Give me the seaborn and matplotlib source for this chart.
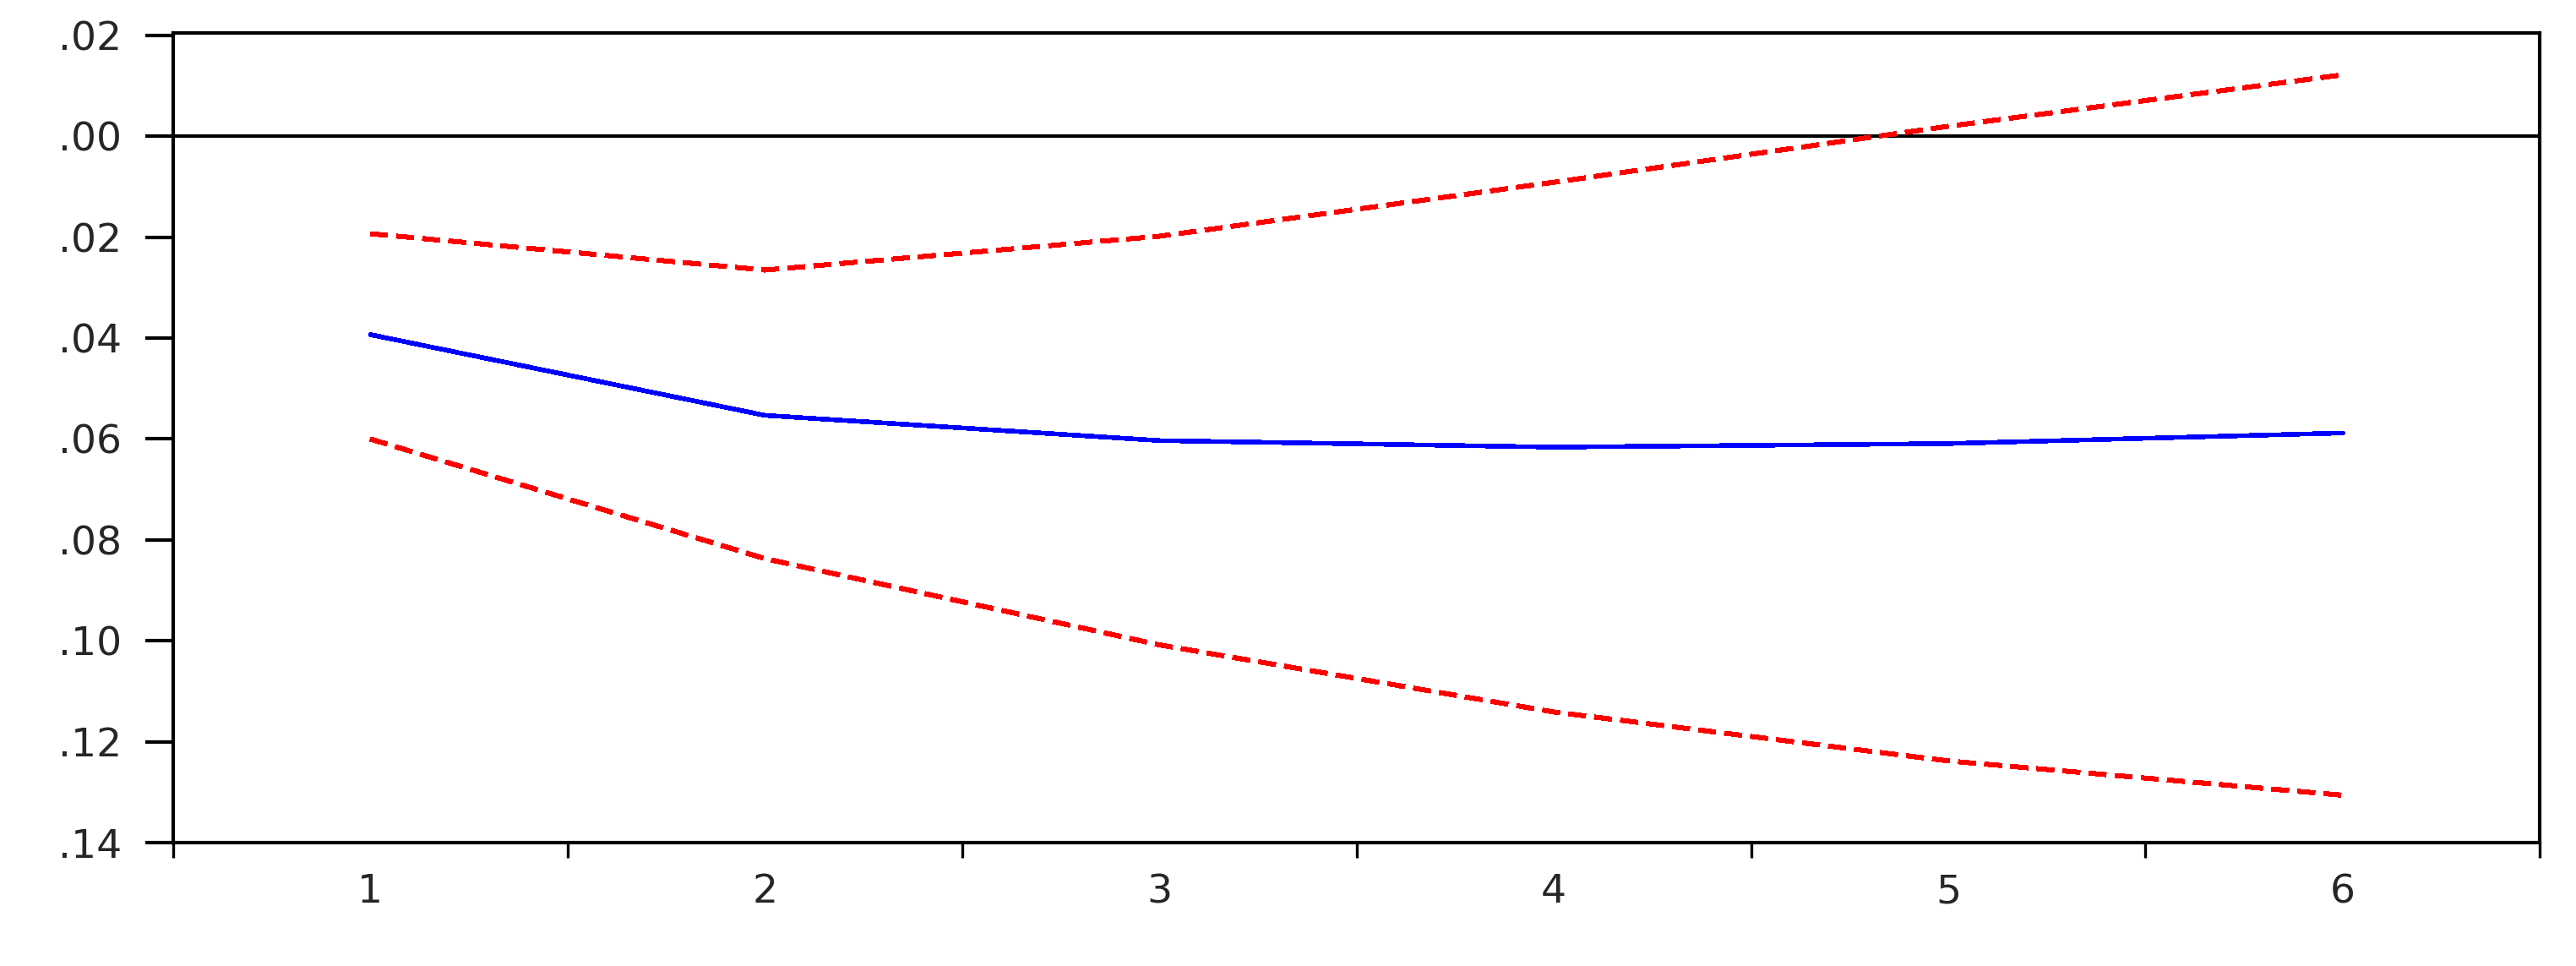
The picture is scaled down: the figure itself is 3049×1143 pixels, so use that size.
import numpy as np
import pandas as pd
import matplotlib
matplotlib.use("Agg")
import matplotlib.pyplot as plt
import seaborn as sns
from matplotlib.ticker import FixedLocator

# ----------------------------------------
# Data
# ----------------------------------------
periods = [1, 2, 3, 4, 5, 6]
response = [-0.0393, -0.0553, -0.0603, -0.0616, -0.0609, -0.0588]
upper_band = [-0.0193, -0.0265, -0.0198, -0.0091, 0.0020, 0.0122]
lower_band = [-0.0600, -0.0837, -0.1008, -0.1141, -0.1238, -0.1306]

y_ticks = [0.02, 0.00, -0.02, -0.04, -0.06, -0.08, -0.10, -0.12, -0.14]
y_labels = [".02", ".00", ".02", ".04", ".06", ".08", ".10", ".12", ".14"]
x_labels = ["1", "2", "3", "4", "5", "6"]

df = pd.DataFrame({
    "period": periods,
    "response": response,
    "upper": upper_band,
    "lower": lower_band,
})

# ----------------------------------------
# Style
# ----------------------------------------
sns.set_style("ticks")
plt.rcParams["font.family"] = ["DejaVu Sans"]

fig = plt.figure(figsize=(30.49, 11.43), dpi=100)
ax = fig.add_axes([0.0672, 0.1277, 0.9188, 0.8382])

# ----------------------------------------
# Lines (aliased, like the original screenshot)
# ----------------------------------------
dash = (0, (4.5, 2.25))

sns.lineplot(data=df, x="period", y="response", color="#0000ff",
             linewidth=3.3, antialiased=False, ax=ax)
sns.lineplot(data=df, x="period", y="upper", color="#ff0000",
             linewidth=3.3, linestyle=dash, antialiased=False, ax=ax)
sns.lineplot(data=df, x="period", y="lower", color="#ff0000",
             linewidth=3.3, linestyle=dash, antialiased=False, ax=ax)

ax.axhline(0, color="black", linewidth=3.0, zorder=1)

# ----------------------------------------
# Axes
# ----------------------------------------
ax.set_xlim(0.5, 6.5)
ax.set_ylim(-0.14, 0.0205)

ax.set_yticks(y_ticks)
ax.set_yticklabels(y_labels)
ax.set_xticks(periods)
ax.set_xticklabels(x_labels)
ax.xaxis.set_minor_locator(FixedLocator(np.arange(0.5, 7.0, 1.0)))

ax.tick_params(axis="y", which="major", direction="out", length=24,
               width=3.0, pad=20, labelsize=34, color="black")
ax.tick_params(axis="x", which="major", length=0, pad=26, labelsize=34)
ax.tick_params(axis="x", which="minor", direction="out", length=13,
               width=2.4, color="black")

for side in ["left", "right", "top", "bottom"]:
    ax.spines[side].set_visible(True)
    ax.spines[side].set_linewidth(3.0)
    ax.spines[side].set_color("black")

ax.set_xlabel("")
ax.set_ylabel("")
ax.grid(False)

fig.savefig("out.png", dpi=100, facecolor="white")
